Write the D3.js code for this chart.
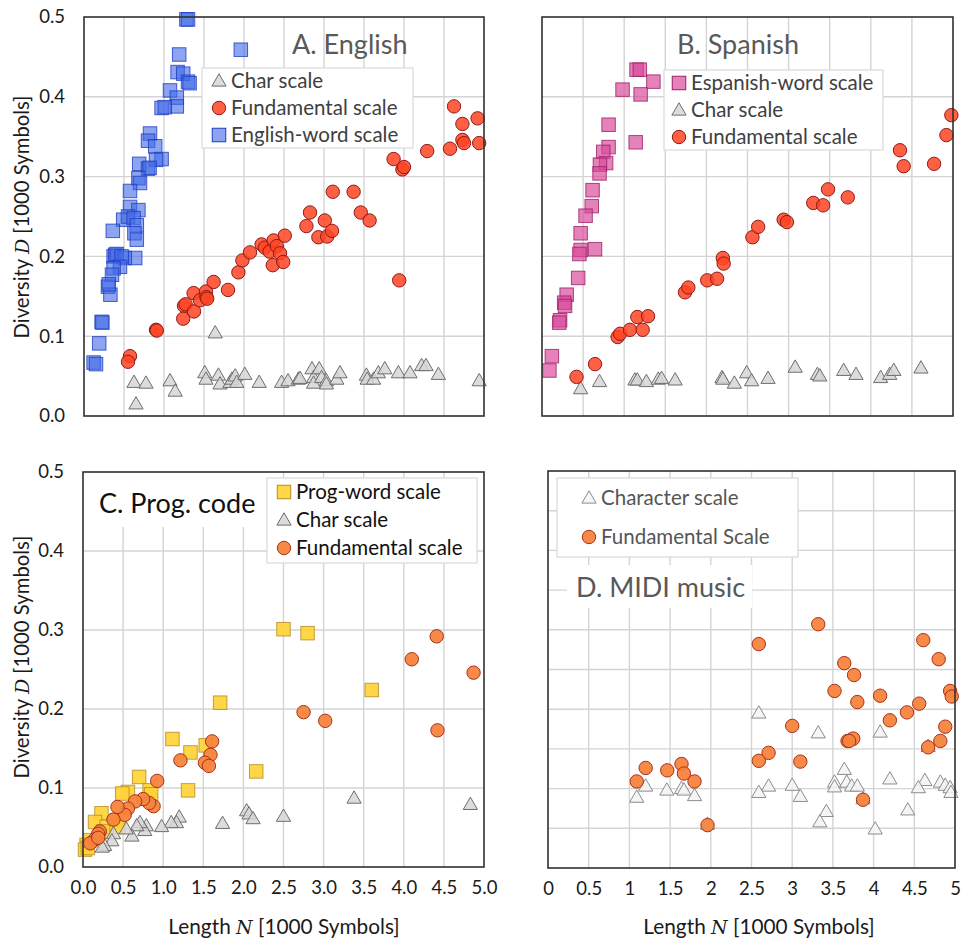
<!DOCTYPE html>
<html><head><meta charset="utf-8">
<script src="https://cdn.jsdelivr.net/npm/d3@7"></script>
<style>
body{margin:0;background:#fff;}
svg{display:block;font-family:Lato, "Noto Sans", sans-serif;}
</style></head>
<body>
<svg id="chart" width="963" height="941"></svg>
<script>
// ---------- DATA ----------
const yTicks = [0.0, 0.1, 0.2, 0.3, 0.4, 0.5];
const xTicks = [0.0, 0.5, 1.0, 1.5, 2.0, 2.5, 3.0, 3.5, 4.0, 4.5, 5.0];

const A_char = [[0.625,0.041],[0.775,0.040],[0.65,0.014],[1.075,0.043],[1.14,0.030],[1.64,0.103],[1.51,0.053],[1.525,0.045],[1.68,0.050],[1.70,0.039],[1.825,0.041],[1.85,0.045],[1.89,0.049],[1.91,0.041],[2.01,0.051],[2.19,0.041],[2.47,0.041],[2.55,0.043],[2.68,0.045],[2.70,0.046],[2.85,0.058],[2.87,0.047],[2.87,0.040],[2.94,0.058],[2.97,0.047],[3.03,0.043],[3.03,0.039],[3.16,0.045],[3.20,0.053],[3.53,0.050],[3.54,0.045],[3.62,0.045],[3.68,0.053],[3.76,0.058],[3.93,0.053],[4.075,0.053],[4.22,0.062],[4.275,0.062],[4.43,0.051],[4.94,0.043]];
const A_fund = [[0.575,0.075],[0.55,0.068],[0.90,0.108],[0.91,0.107],[1.25,0.138],[1.27,0.140],[1.24,0.122],[1.375,0.131],[1.37,0.154],[1.45,0.145],[1.525,0.156],[1.53,0.149],[1.54,0.147],[1.62,0.168],[1.80,0.158],[1.93,0.180],[1.98,0.195],[2.075,0.205],[2.22,0.215],[2.26,0.211],[2.32,0.206],[2.37,0.220],[2.41,0.213],[2.45,0.204],[2.36,0.189],[2.49,0.193],[2.51,0.226],[2.825,0.255],[2.78,0.238],[2.93,0.224],[3.01,0.245],[3.04,0.225],[3.10,0.232],[3.11,0.281],[3.37,0.281],[3.46,0.255],[3.57,0.245],[3.94,0.170],[3.87,0.322],[3.98,0.309],[4.00,0.312],[4.29,0.332],[4.575,0.335],[4.625,0.388],[4.73,0.366],[4.73,0.346],[4.75,0.342],[4.92,0.373],[4.94,0.342]];
const A_word = [[1.28,0.497],[1.30,0.497],[1.96,0.459],[1.19,0.453],[1.17,0.431],[1.24,0.429],[1.30,0.419],[1.32,0.417],[1.075,0.408],[1.16,0.399],[1.16,0.388],[0.97,0.386],[1.01,0.387],[0.825,0.354],[0.80,0.345],[0.89,0.338],[0.97,0.322],[0.90,0.321],[0.69,0.316],[0.80,0.310],[0.82,0.311],[0.68,0.298],[0.70,0.292],[0.575,0.282],[0.575,0.262],[0.68,0.258],[0.49,0.246],[0.55,0.250],[0.62,0.248],[0.66,0.239],[0.63,0.229],[0.36,0.232],[0.66,0.221],[0.64,0.198],[0.37,0.200],[0.39,0.202],[0.41,0.203],[0.51,0.198],[0.47,0.200],[0.45,0.187],[0.37,0.185],[0.35,0.177],[0.30,0.162],[0.33,0.152],[0.31,0.165],[0.22,0.118],[0.23,0.117],[0.19,0.091],[0.12,0.067],[0.15,0.065]];

const B_word = [[1.15,0.434],[1.19,0.434],[1.355,0.419],[0.98,0.409],[1.20,0.403],[0.81,0.365],[1.14,0.343],[0.81,0.337],[0.745,0.331],[0.78,0.317],[0.705,0.315],[0.70,0.304],[0.615,0.283],[0.605,0.263],[0.53,0.251],[0.47,0.229],[0.645,0.209],[0.47,0.208],[0.455,0.203],[0.44,0.173],[0.30,0.152],[0.27,0.142],[0.28,0.138],[0.22,0.120],[0.21,0.117],[0.12,0.075],[0.09,0.057]];
const B_char = [[0.47,0.033],[0.70,0.042],[1.13,0.044],[1.16,0.044],[1.27,0.042],[1.415,0.045],[1.455,0.046],[1.62,0.044],[2.19,0.047],[2.20,0.045],[2.34,0.040],[2.49,0.053],[2.55,0.043],[2.75,0.046],[3.08,0.060],[3.35,0.051],[3.38,0.049],[3.67,0.056],[3.82,0.051],[4.12,0.047],[4.23,0.051],[4.28,0.056],[4.61,0.059]];
const B_fund = [[0.42,0.049],[0.645,0.065],[0.92,0.099],[0.95,0.103],[1.07,0.108],[1.16,0.124],[1.225,0.108],[1.29,0.125],[1.74,0.155],[1.78,0.161],[2.01,0.170],[2.13,0.172],[2.20,0.198],[2.21,0.191],[2.56,0.224],[2.63,0.237],[2.94,0.246],[2.98,0.243],[3.30,0.267],[3.42,0.264],[3.48,0.284],[3.72,0.274],[4.355,0.333],[4.40,0.313],[4.77,0.316],[4.92,0.352],[4.98,0.377]];

const C_word = [[1.71,0.208],[1.115,0.162],[1.34,0.145],[1.53,0.154],[1.31,0.097],[0.70,0.114],[0.56,0.095],[0.49,0.093],[0.83,0.097],[0.85,0.092],[0.23,0.068],[0.15,0.057],[0.42,0.059],[0.44,0.051],[0.295,0.051],[0.25,0.045],[0.09,0.034],[0.045,0.028],[0.025,0.022],[0.06,0.024],[2.16,0.121],[2.50,0.301],[2.80,0.296],[3.60,0.224]];
const C_char = [[2.04,0.070],[2.07,0.066],[2.12,0.060],[1.74,0.054],[1.20,0.062],[1.165,0.055],[1.10,0.055],[0.98,0.050],[0.79,0.051],[0.77,0.045],[0.71,0.055],[0.67,0.051],[0.61,0.038],[0.54,0.047],[0.38,0.041],[0.36,0.032],[0.27,0.026],[0.24,0.024],[3.38,0.086],[2.50,0.063],[4.83,0.078]];
const C_fund = [[1.61,0.159],[1.59,0.142],[1.52,0.132],[1.57,0.128],[1.215,0.135],[0.925,0.109],[0.88,0.077],[0.825,0.081],[0.75,0.086],[0.65,0.083],[0.56,0.074],[0.52,0.066],[0.43,0.076],[0.38,0.060],[0.21,0.045],[0.19,0.042],[0.15,0.035],[0.09,0.030],[0.19,0.037],[2.75,0.196],[3.02,0.185],[4.10,0.263],[4.41,0.292],[4.42,0.173],[4.87,0.246]];

const D_char = [[2.59,0.194],[3.32,0.169],[4.08,0.170],[3.64,0.123],[3.52,0.107],[3.52,0.101],[3.67,0.107],[3.73,0.102],[3.80,0.102],[4.20,0.111],[4.63,0.109],[4.55,0.100],[4.82,0.107],[4.88,0.103],[4.94,0.100],[4.95,0.094],[4.42,0.072],[4.02,0.048],[3.42,0.070],[3.34,0.057],[3.87,0.086],[3.00,0.103],[3.10,0.089],[2.71,0.102],[2.59,0.094],[1.20,0.102],[1.09,0.088],[1.46,0.097],[1.64,0.099],[1.67,0.097],[1.80,0.090],[1.96,0.054],[4.67,0.152],[3.70,0.160]];
const D_fund = [[3.32,0.307],[2.59,0.282],[4.61,0.287],[4.80,0.263],[3.64,0.258],[3.76,0.243],[3.52,0.223],[3.80,0.209],[4.08,0.217],[4.56,0.207],[4.41,0.196],[4.20,0.186],[4.94,0.223],[4.96,0.216],[4.88,0.178],[4.82,0.160],[4.67,0.152],[3.00,0.179],[3.75,0.163],[3.68,0.160],[3.70,0.160],[2.71,0.145],[2.59,0.135],[3.10,0.134],[3.87,0.086],[1.20,0.126],[1.465,0.123],[1.64,0.131],[1.67,0.119],[1.80,0.109],[1.09,0.109],[1.96,0.054]];

// ---------- STYLES ----------
const ST = {
  tri:   {fill:"#d6d6d6", stroke:"#6e6e6e", op:0.85},
  triD:  {fill:"#f4f4f4", stroke:"#8c8c8c", op:0.9},
  red:   {fill:"#ff4422", stroke:"#8e1a1a", op:0.85},
  orange:{fill:"#f7843c", stroke:"#a8301c", op:0.95},
  blue:  {fill:"#4169e6", stroke:"#1f3cc0", op:0.6},
  pink:  {fill:"#d8479a", stroke:"#9c1f66", op:0.68},
  yellow:{fill:"#ffd236", stroke:"#b58a25", op:0.92}
};
const LEG_FS = 20.5;

const svg = d3.select("#chart");

function panel(cfg){
  const x = d3.scaleLinear().domain([0,5]).range([cfg.l, cfg.r]);
  const y = d3.scaleLinear().domain([0,0.5]).range([cfg.b, cfg.t]);
  const g = svg.append("g");
  const gy = d3.range(cfg.gstep, 0.5 - 1e-9, cfg.gstep);
  g.selectAll(".gh").data(gy).join("line")
    .attr("x1", cfg.l).attr("x2", cfg.r).attr("y1", d=>y(d)).attr("y2", d=>y(d))
    .attr("stroke", "#d4d4d4").attr("stroke-width", 1.4);
  g.selectAll(".gv").data(xTicks.slice(1,-1)).join("line")
    .attr("y1", cfg.t).attr("y2", cfg.b).attr("x1", d=>x(d)).attr("x2", d=>x(d))
    .attr("stroke", "#d4d4d4").attr("stroke-width", 1.4);
  return {g, x, y};
}

function drawTri(P, data, st, size){
  P.g.append("g").selectAll("path").data(data).join("path")
    .attr("d", d3.symbol(d3.symbolTriangle, size || 88))
    .attr("transform", d=>`translate(${P.x(d[0])},${P.y(d[1])})`)
    .attr("fill", st.fill).attr("stroke", st.stroke).attr("stroke-width", 1)
    .attr("fill-opacity", st.op);
}
function drawSq(P, data, st){
  const s = 13.5;
  P.g.append("g").selectAll("rect").data(data).join("rect")
    .attr("x", d=>P.x(d[0])-s/2).attr("y", d=>P.y(d[1])-s/2)
    .attr("width", s).attr("height", s)
    .attr("fill", st.fill).attr("fill-opacity", st.op)
    .attr("stroke", st.stroke).attr("stroke-opacity", 0.8).attr("stroke-width", 1);
}
function drawCirc(P, data, st){
  P.g.append("g").selectAll("circle").data(data).join("circle")
    .attr("cx", d=>P.x(d[0])).attr("cy", d=>P.y(d[1])).attr("r", 6.7)
    .attr("fill", st.fill).attr("fill-opacity", st.op)
    .attr("stroke", st.stroke).attr("stroke-width", 1);
}
function frame(P, cfg){
  P.g.append("rect").attr("x", cfg.l).attr("y", cfg.t)
    .attr("width", cfg.r-cfg.l).attr("height", cfg.b-cfg.t)
    .attr("fill","none").attr("stroke","#303030").attr("stroke-width",1.6);
}
function yAxis(P, cfg){
  const ax = d3.axisLeft(P.y).tickValues(yTicks).tickFormat(d3.format(".1f")).tickSize(0).tickPadding(19);
  const a = P.g.append("g").attr("transform",`translate(${cfg.l},0)`).call(ax);
  a.select(".domain").remove();
  a.selectAll("text").attr("font-family","Lato").attr("font-size",18.5).attr("fill","#1a1a1a");
}
function xAxis(P, cfg, fmt){
  const ax = d3.axisBottom(P.x).tickValues(xTicks).tickFormat(fmt).tickSize(0).tickPadding(14);
  const a = P.g.append("g").attr("transform",`translate(0,${cfg.b})`).call(ax);
  a.select(".domain").remove();
  a.selectAll("text").attr("font-family","Lato").attr("font-size",18.5).attr("fill","#1a1a1a");
}
function legend(P, box, items, color){
  P.g.append("rect").attr("x",box[0]).attr("y",box[1]).attr("width",box[2]).attr("height",box[3])
    .attr("fill","#fff").attr("stroke","#d9d9d9").attr("stroke-width",1.2);
  items.forEach(it=>{
    const mx = it.mx, my = it.my;
    if(it.type==="tri"){
      P.g.append("path").attr("d", d3.symbol(d3.symbolTriangle, 88)())
        .attr("transform",`translate(${mx},${my+1})`)
        .attr("fill", it.st.fill).attr("stroke", it.st.stroke).attr("fill-opacity", it.st.op);
    } else if(it.type==="sq"){
      P.g.append("rect").attr("x",mx-6.75).attr("y",my-6.75).attr("width",13.5).attr("height",13.5)
        .attr("fill", it.st.fill).attr("fill-opacity", it.st.op).attr("stroke", it.st.stroke);
    } else {
      P.g.append("circle").attr("cx",mx).attr("cy",my).attr("r",6.7)
        .attr("fill", it.st.fill).attr("fill-opacity", it.st.op).attr("stroke", it.st.stroke);
    }
    P.g.append("text").attr("x", mx+12).attr("y", my).attr("dy","0.35em")
      .attr("font-family","Lato").attr("font-size",LEG_FS).attr("fill",color).text(it.label);
  });
}
function title(P, txt, xx, yy, color){
  P.g.append("text").attr("x",xx).attr("y",yy).attr("font-family","Lato")
    .attr("font-size",27).attr("fill",color).text(txt);
}
function yTitle(cy){
  const t = svg.append("text").attr("transform",`translate(29,${cy}) rotate(-90)`)
    .attr("text-anchor","middle").attr("font-family","Lato").attr("font-size",20.3).attr("fill","#1a1a1a");
  t.append("tspan").text("Diversity ");
  t.append("tspan").attr("font-family","'DejaVu Serif', serif").attr("font-style","italic").attr("font-size",19).text("D");
  t.append("tspan").text(" [1000 Symbols]");
}
function xTitle(cx){
  const t = svg.append("text").attr("x",cx).attr("y",934)
    .attr("text-anchor","middle").attr("font-family","Lato").attr("font-size",20.8).attr("fill","#1a1a1a");
  t.append("tspan").text("Length ");
  t.append("tspan").attr("font-family","'DejaVu Serif', serif").attr("font-style","italic").attr("font-size",19).text("N");
  t.append("tspan").text(" [1000 Symbols]");
}

// ---------- PANEL A ----------
const cA = {l:84, r:484, t:17, b:416, gstep:0.1};
const PA = panel(cA);
drawTri(PA, A_char, ST.tri);
drawCirc(PA, A_fund, ST.red);
drawSq(PA, A_word, ST.blue);
title(PA, "A. English", 292, 54, "#595959");
legend(PA, [202,68,211,80], [
  {type:"tri", st:ST.tri, label:"Char scale", mx:219, my:81},
  {type:"circ", st:ST.red, label:"Fundamental scale", mx:219, my:108},
  {type:"sq", st:ST.blue, label:"English-word scale", mx:219, my:135}
], "#404040");
frame(PA, cA);
yAxis(PA, cA);

// ---------- PANEL B ----------
const cB = {l:542, r:953, t:17, b:416, gstep:0.1};
const PB = panel(cB);
drawTri(PB, B_char, ST.tri);
drawCirc(PB, B_fund, ST.red);
drawSq(PB, B_word, ST.pink);
title(PB, "B. Spanish", 677, 54, "#595959");
legend(PB, [664,70,219,80], [
  {type:"sq", st:ST.pink, label:"Espanish-word scale", mx:679, my:83},
  {type:"tri", st:ST.tri, label:"Char scale", mx:679, my:110},
  {type:"circ", st:ST.red, label:"Fundamental scale", mx:679, my:137}
], "#404040");
frame(PB, cB);

// ---------- PANEL C ----------
const cC = {l:83, r:484, t:472, b:867, gstep:0.1};
const PC = panel(cC);
PC.g.append("rect").attr("x",90).attr("y",473).attr("width",172).attr("height",54).attr("fill","#fff");
drawSq(PC, C_word, ST.yellow);
drawTri(PC, C_char, ST.tri);
drawCirc(PC, C_fund, ST.orange);
title(PC, "C. Prog. code", 99, 513, "#111");
legend(PC, [267,478,210,85], [
  {type:"sq", st:ST.yellow, label:"Prog-word scale", mx:284, my:492},
  {type:"tri", st:ST.tri, label:"Char scale", mx:284, my:520},
  {type:"circ", st:ST.orange, label:"Fundamental scale", mx:284, my:548}
], "#111");
frame(PC, cC);
yAxis(PC, cC);
xAxis(PC, cC, d3.format(".1f"));

// ---------- PANEL D ----------
const cD = {l:548, r:955, t:471, b:868, gstep:0.05};
const PD = panel(cD);
drawTri(PD, D_char, ST.triD);
drawCirc(PD, D_fund, ST.orange);
legend(PD, [557,478,241,79], [
  {type:"tri", st:ST.triD, label:"Character scale", mx:589, my:498},
  {type:"circ", st:ST.orange, label:"Fundamental Scale", mx:589, my:537}
], "#555");
PD.g.append("rect").attr("x",567).attr("y",565).attr("width",185).attr("height",43).attr("fill","#fff");
title(PD, "D. MIDI music", 576, 597, "#595959");
frame(PD, cD);
xAxis(PD, cD, d3.format("~g"));

yTitle(217);
yTitle(657);
xTitle(284);
xTitle(759);
</script>
</body></html>
